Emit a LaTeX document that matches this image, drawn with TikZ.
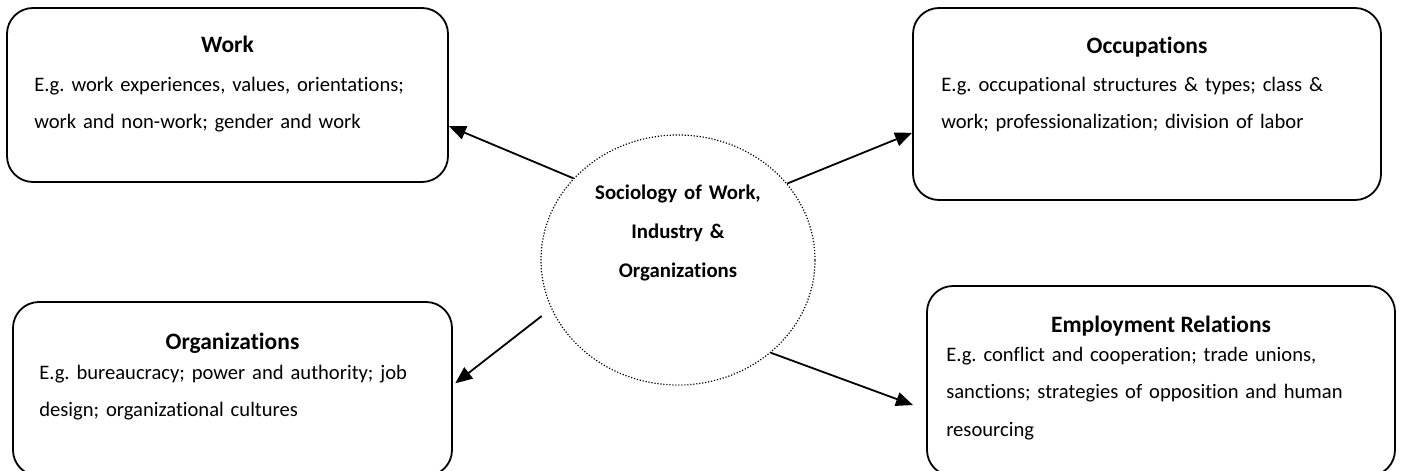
\documentclass[tikz,border=0pt]{standalone}
\usepackage{fontspec}
\setmainfont{Carlito}[Ligatures=NoCommon]
\usetikzlibrary{shapes.geometric, arrows.meta, positioning}
\frenchspacing

\tikzset{
    topic/.style={draw, line width=1.8pt, rounded corners=26pt, inner sep=0pt},
    heading/.style={font=\fontsize{23.5}{26}\selectfont\bfseries, inner sep=0pt},
    examples/.style={font=\fontsize{20.6}{37.5}\selectfont, text width=460pt, align=left, inner sep=0pt},
    hub/.style={draw, ellipse, dash pattern=on 1.2pt off 1.8pt, line width=1.2pt, minimum width=274pt, minimum height=250pt, inner sep=0pt},
    link/.style={line width=1.8pt, -{Triangle[length=17pt,width=14pt]}}
}

\begin{document}
\begin{tikzpicture}[x=1pt, y=-1pt]
        \useasboundingbox (0,0) rectangle (1401,471);
        % centre
        \node[hub] (soc) at (678,260) {};
        \node[font=\fontsize{20.8}{39}\selectfont\bfseries, text width=240pt, align=center, inner sep=0pt, above=61pt of soc.center, anchor=base] (socname) {Sociology of Work,\\ Industry \&\\ Organizations};
        % the four boxes
        \node[topic, minimum width=441pt, minimum height=174pt] (work) at (227.5,95) {};
        \node[topic, minimum width=468pt, minimum height=192pt] (occ) at (1147,104) {};
        \node[topic, minimum width=439pt, minimum height=174pt] (org) at (232.5,389) {};
        \node[topic, minimum width=468pt, minimum height=190pt] (emp) at (1161,381) {};
        \node[heading, below=45pt of work.north, anchor=base] (worktitle) {Work};
        \node[heading, below=46pt of occ.north, anchor=base] (occtitle) {Occupations};
        \node[heading, below=48pt of org.north, anchor=base] (orgtitle) {Organizations};
        \node[heading, below=47pt of emp.north, anchor=base] (emptitle) {Employment Relations};
        \node[examples, below right=84pt and 28pt of work.north west, anchor=base west] (worktext) {E.g. work experiences, values, orientations;\\ work and non-work; gender and work};
        \node[examples, below right=84pt and 29pt of occ.north west, anchor=base west] (occtext) {E.g. occupational structures \& types; class \&\\ work; professionalization; division of labor};
        \node[examples, below right=78pt and 27pt of org.north west, anchor=base west] (orgtext) {E.g. bureaucracy; power and authority; job\\ design; organizational cultures};
        \node[examples, below right=76pt and 20pt of emp.north west, anchor=base west] (emptext) {E.g. conflict and cooperation; trade unions,\\ sanctions; strategies of opposition and human\\ resourcing};
        % arrows out of the centre
        \draw[link] (soc.142.7) -- (work.-8.3);
        \draw[link] (soc.35.3) -- (occ.187.8);
        \draw[link, shorten <=12pt, shorten >=3pt] (soc.201.5) -- (org.1.6);
        \draw[link, shorten >=14pt] (soc.-45) -- (emp.187.8);
    \end{tikzpicture}
\end{document}
